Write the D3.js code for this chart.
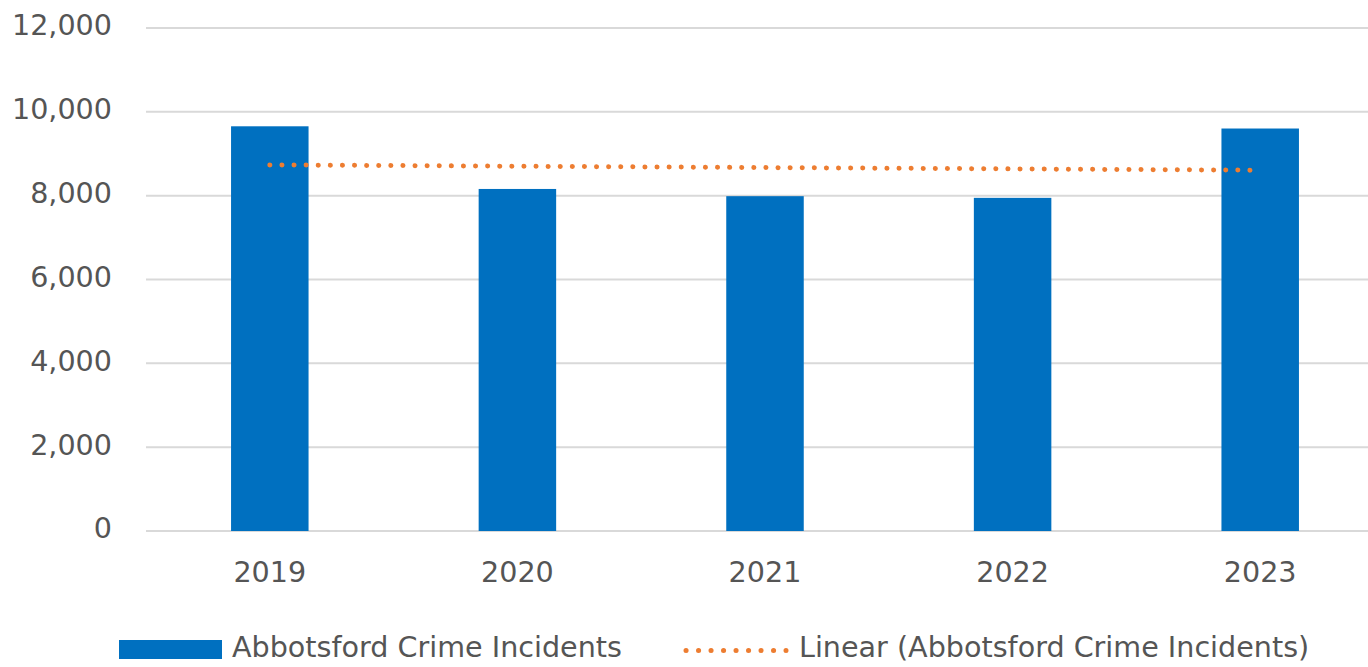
<!DOCTYPE html>
<html>
<head>
<meta charset="utf-8">
<script src="https://cdn.jsdelivr.net/npm/d3@7"></script>
<style>
  html, body { margin: 0; padding: 0; background: #fff; overflow: hidden; }
  text { font-family: "DejaVu Sans", sans-serif; fill: #555555; }
</style>
</head>
<body>
<svg id="chart"></svg>
<script>
const years = ["2019", "2020", "2021", "2022", "2023"];
const incidents = [9655, 8160, 7988, 7948, 9602];
const yTicks = [0, 2000, 4000, 6000, 8000, 10000, 12000];
const seriesName = "Abbotsford Crime Incidents";
const trendName = "Linear (Abbotsford Crime Incidents)";

const width = 1368;
const height = 667;
const margin = { top: 28, left: 146, right: -16, bottom: 136 };
const fontSize = "28.6px";

const svg = d3.select("#chart").attr("width", width).attr("height", height);

const xScale = d3
  .scaleBand()
  .domain(years)
  .range([margin.left, width - margin.right])
  .paddingInner(0.687)
  .paddingOuter(0.3435);

const yScale = d3
  .scaleLinear()
  .domain([0, 12000])
  .range([height - margin.bottom, margin.top]);

// gridlines
svg
  .append("g")
  .selectAll("line")
  .data(yTicks)
  .enter()
  .append("line")
  .attr("x1", margin.left)
  .attr("x2", width - margin.right)
  .attr("y1", (d) => yScale(d))
  .attr("y2", (d) => yScale(d))
  .attr("stroke", "#d9d9d9")
  .attr("stroke-width", 2);

// y labels
svg
  .append("g")
  .selectAll("text")
  .data(yTicks)
  .enter()
  .append("text")
  .attr("x", 112)
  .attr("y", (d) => yScale(d))
  .attr("dy", "0.26em")
  .attr("text-anchor", "end")
  .style("font-size", fontSize)
  .text((d) => d3.format(",")(d));

// bars
svg
  .selectAll(".bar")
  .data(years)
  .enter()
  .append("rect")
  .attr("class", "bar")
  .attr("x", (d) => xScale(d))
  .attr("width", xScale.bandwidth())
  .attr("y", (d, i) => yScale(incidents[i]))
  .attr("height", (d, i) => yScale(0) - yScale(incidents[i]))
  .attr("fill", "#0070c0");

// x labels
svg
  .append("g")
  .selectAll("text")
  .data(years)
  .enter()
  .append("text")
  .attr("x", (d) => xScale(d) + xScale.bandwidth() / 2)
  .attr("y", 582)
  .attr("text-anchor", "middle")
  .style("font-size", fontSize)
  .text((d) => d);

// linear trendline (least squares over category index)
const n = incidents.length;
const xs = d3.range(n);
const mx = d3.mean(xs);
const my = d3.mean(incidents);
const slope =
  d3.sum(xs, (x, i) => (x - mx) * (incidents[i] - my)) /
  d3.sum(xs, (x) => (x - mx) * (x - mx));
const intercept = my - slope * mx;

const line = d3
  .line()
  .x((d) => xScale(years[d]) + xScale.bandwidth() / 2)
  .y((d) => yScale(intercept + slope * d));

svg
  .append("path")
  .datum([0, n - 1])
  .attr("d", line)
  .attr("fill", "none")
  .attr("stroke", "#ed7d31")
  .attr("stroke-width", 5)
  .attr("stroke-linecap", "round")
  .attr("stroke-dasharray", "0.1 12");

// legend
const legend = svg.append("g");
legend
  .append("rect")
  .attr("x", 119)
  .attr("y", 640)
  .attr("width", 103)
  .attr("height", 19)
  .attr("fill", "#0070c0");
legend
  .append("text")
  .attr("x", 232)
  .attr("y", 657)
  .style("font-size", fontSize)
  .text(seriesName);
legend
  .append("line")
  .attr("x1", 686)
  .attr("x2", 786)
  .attr("y1", 650.5)
  .attr("y2", 650.5)
  .attr("stroke", "#ed7d31")
  .attr("stroke-width", 5)
  .attr("stroke-linecap", "round")
  .attr("stroke-dasharray", "0.1 12.4");
legend
  .append("text")
  .attr("x", 799)
  .attr("y", 657)
  .style("font-size", fontSize)
  .text(trendName);
</script>
</body>
</html>
